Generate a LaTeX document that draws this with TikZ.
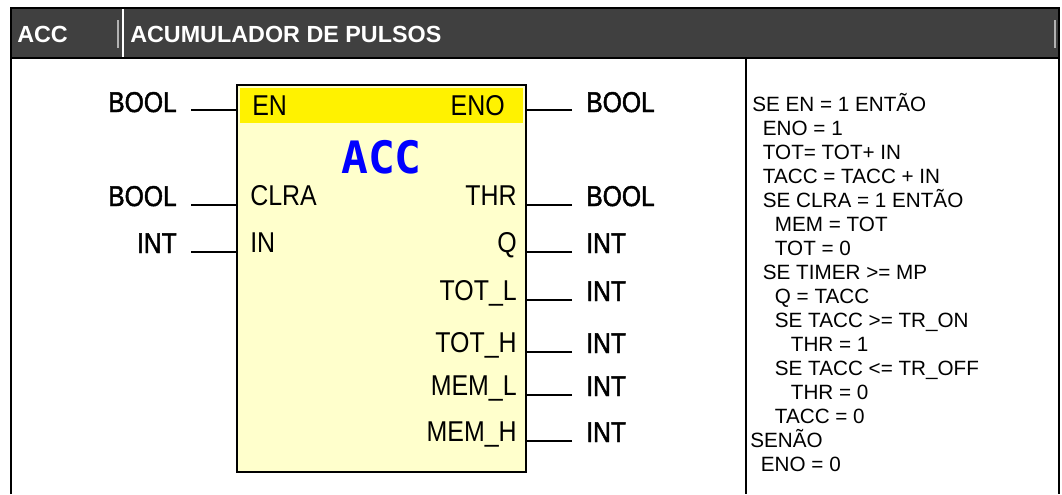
\documentclass[tikz,border=0pt]{standalone}
\usepackage{fontspec}
\setmainfont{Liberation Sans}
\newfontfamily\pinfont[FakeStretch=0.87]{Liberation Sans}
\newfontfamily\typefont[FakeStretch=0.86,FakeBold=1.6]{Liberation Sans}
\newfontfamily\accfont{DejaVu Sans Mono}
\usetikzlibrary{positioning}
\definecolor{hdrgray}{RGB}{64,64,64}
\definecolor{blkfill}{RGB}{255,255,204}

\begin{document}
\begin{tikzpicture}[x=0.75pt,y=-0.75pt,
    frame/.style={line width=2pt},
    pin/.style={line width=2pt},
    hdrtext/.style={text=white,font=\bfseries\fontsize{17.5}{20}\selectfont,inner sep=0pt,anchor=base west},
    pinname/.style={font=\pinfont\fontsize{21.5}{24}\selectfont,inner sep=0pt},
    pintype/.style={font=\typefont\fontsize{21.5}{24}\selectfont,inner sep=0pt},
    code/.style={font=\fontsize{15.5}{18}\selectfont,align=left,inner sep=0pt}]
		\useasboundingbox (0,0) rectangle (1062,494);
		% header and table frame
		\fill[hdrgray] (11,8) rectangle (1059,58);
		\draw[gray!60,line width=0.8pt] (118,20) -- (118,48);
		\draw[gray!60,line width=0.8pt] (1055,20) -- (1055,48);
		\draw[white,line width=1.2pt] (123,9) -- (123,57);
		\draw[frame] (11,494) -- (11,8) -- (1059,8) -- (1059,494);
		\draw[frame] (11,58) -- (1059,58);
		\draw[frame] (746,58) -- (746,494);
		\draw (17,42) node [hdrtext] (hacc) {ACC};
		\draw (130,42) node [hdrtext] (htitle) {ACUMULADOR DE PULSOS};

		% function block
		\draw (381.5,278.5) node [draw,line width=2.2pt,fill=blkfill,inner sep=0pt,
			minimum width=216.75pt,minimum height=290.25pt] (blk) {};
		\fill[yellow] (240,88) rectangle (523,123);
		\draw (381.5,173) node [text=blue,font=\accfont\bfseries\fontsize{33.5}{36}\selectfont,
			inner sep=0pt,anchor=base] (title) {ACC};

		\coordinate (in-en) at (191,110);
		\coordinate (in-clra) at (191,205);
		\coordinate (in-in) at (191,252);
		\coordinate (out-eno) at (572,110);
		\coordinate (out-thr) at (572,205);
		\coordinate (out-q) at (572,252);
		\coordinate (out-totl) at (572,300);
		\coordinate (out-toth) at (572,352);
		\coordinate (out-meml) at (572,395);
		\coordinate (out-memh) at (572,441);
		\path[pin]
			(in-en) edge (in-en -| blk.west)
			(in-clra) edge (in-clra -| blk.west)
			(in-in) edge (in-in -| blk.west)
			(out-eno) edge (out-eno -| blk.east)
			(out-thr) edge (out-thr -| blk.east)
			(out-q) edge (out-q -| blk.east)
			(out-totl) edge (out-totl -| blk.east)
			(out-toth) edge (out-toth -| blk.east)
			(out-meml) edge (out-meml -| blk.east)
			(out-memh) edge (out-memh -| blk.east);

		% pin names inside the block
		\draw (252,115) node [pinname,anchor=base west] (n-en) {EN};
		\draw (250,205) node [pinname,anchor=base west] (n-clra) {CLRA};
		\draw (250,252) node [pinname,anchor=base west] (n-in) {IN};
		\draw (505,115) node [pinname,anchor=base east] (n-eno) {ENO};
		\draw (517,205) node [pinname,anchor=base east] (n-thr) {THR};
		\draw (517,252) node [pinname,anchor=base east] (n-q) {Q};
		\draw (517,300) node [pinname,anchor=base east] (n-totl) {TOT\_L};
		\draw (517,352) node [pinname,anchor=base east] (n-toth) {TOT\_H};
		\draw (517,395) node [pinname,anchor=base east] (n-meml) {MEM\_L};
		\draw (517,441) node [pinname,anchor=base east] (n-memh) {MEM\_H};

		% data types
		\draw (177,112) node [pintype,anchor=base east] (t-en) {BOOL};
		\draw (177,206) node [pintype,anchor=base east] (t-clra) {BOOL};
		\draw (177,253) node [pintype,anchor=base east] (t-in) {INT};
		\draw (586,112) node [pintype,anchor=base west] (t-eno) {BOOL};
		\draw (586,206) node [pintype,anchor=base west] (t-thr) {BOOL};
		\draw (586,253) node [pintype,anchor=base west] (t-q) {INT};
		\draw (586,301) node [pintype,anchor=base west] (t-totl) {INT};
		\draw (586,353) node [pintype,anchor=base west] (t-toth) {INT};
		\draw (586,396) node [pintype,anchor=base west] (t-meml) {INT};
		\draw (586,442) node [pintype,anchor=base west] (t-memh) {INT};

		% description
		\draw (752,92.3) node [code,anchor=north west] (algo) {\rule{0pt}{14pt}SE EN = 1 ENTÃO\\
			\hspace*{8pt}ENO = 1\\
			\hspace*{8pt}TOT= TOT+ IN\\
			\hspace*{8pt}TACC = TACC + IN\\
			\hspace*{8pt}SE CLRA = 1 ENTÃO\\
			\hspace*{17pt}MEM = TOT\\
			\hspace*{17pt}TOT = 0\\
			\hspace*{8pt}SE TIMER >= MP\\
			\hspace*{17pt}Q = TACC\\
			\hspace*{17pt}SE TACC >= TR\_ON\\
			\hspace*{29pt}THR = 1\\
			\hspace*{17pt}SE TACC <= TR\_OFF\\
			\hspace*{29pt}THR = 0\\
			\hspace*{17pt}TACC = 0\\
			\hspace*{-1.5pt}SENÃO\\
			\hspace*{6.5pt}ENO = 0};
	\end{tikzpicture}
\end{document}
